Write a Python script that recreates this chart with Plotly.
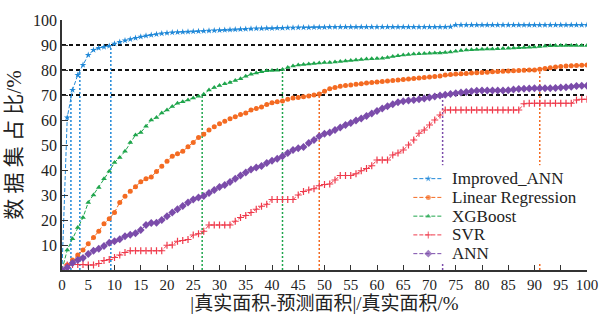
import plotly.graph_objects as go

# Error threshold (%) on the x axis
error_pct = list(range(0, 101))

improved_ann = [0, 61, 72, 78, 82, 86, 88, 88.8, 89.2, 89.6, 90.5, 91.2, 91.8, 92.3, 92.8, 93.3, 93.7, 94, 94.3, 94.6,
                94.8, 95, 95.1, 95.2, 95.3, 95.4, 95.5, 95.6, 95.7, 95.8, 95.9, 96, 96.1, 96.2, 96.3, 96.4, 96.5, 96.6, 96.6, 96.7,
                96.7, 96.8, 96.8, 96.9, 96.9, 97, 97, 97, 97.1, 97.1, 97.1, 97.2, 97.2, 97.2, 97.2, 97.2, 97.2, 97.2, 97.2, 97.2,
                97.2, 97.2, 97.2, 97.2, 97.2, 97.2, 97.2, 97.2, 97.2, 97.2, 97.2, 97.2, 97.2, 97.2, 97.3, 98, 98, 98, 98, 98,
                98, 98, 98, 98, 98, 98, 98, 98, 98, 98, 98, 98, 98, 98, 98, 98, 98, 98, 98, 98, 98]

linear_regression = [0, 2, 4, 6, 8, 10.5, 13, 15.5, 18.5, 20.5, 23, 27, 29.5, 31.5, 33.3, 35.3, 36.5, 37.2, 39.4, 41.5,
                     43.5, 45.5, 46.5, 47.5, 49.3, 51, 53, 54.3, 56, 57.3, 58.5, 59.5, 60.5, 61.3, 62.2, 62.8, 64, 64.6, 65.2, 66.2,
                     66.9, 67.3, 67.6, 68.3, 68.8, 69, 69.3, 69.6, 70, 70.4, 71.5, 72.5, 73, 73.5, 73.8, 74, 74.3, 74.5, 74.8, 75,
                     75.2, 75.4, 75.6, 75.8, 76, 76.2, 76.4, 76.6, 76.8, 77, 77.2, 77.4, 77.6, 78, 78.2, 78.4, 78.5, 78.6, 78.8, 78.9,
                     79, 79.1, 79.3, 79.4, 79.5, 79.6, 79.7, 79.8, 79.9, 80, 80, 80.3, 80.6, 80.9, 81.2, 81.4, 81.6, 81.7, 81.8, 81.9,
                     82]

xgboost = [0, 8, 12.5, 17, 21, 27, 30, 33, 36.5, 39.5, 43, 45, 47.5, 51, 54, 55, 57.5, 60, 61, 62.8,
           64, 65.4, 66.7, 67.3, 68, 68.8, 69.5, 70.3, 72, 73, 73.8, 74.5, 75, 75.8, 76.5, 77.5, 78.3, 78.8, 79.3, 79.7,
           79.8, 79.9, 80.2, 81, 81.6, 82, 82.2, 82.4, 82.6, 82.8, 83, 83, 83.2, 83.4, 83.6, 83.8, 84, 84.2, 84.4, 84.5,
           84.6, 84.7, 85, 85.4, 85.7, 86, 86.2, 86.4, 86.5, 86.6, 86.7, 86.8, 86.8, 87, 87.2, 87.5, 87.8, 88, 88.1, 88.2,
           88.3, 88.4, 88.4, 88.5, 88.6, 88.7, 88.8, 88.9, 89, 89.1, 89.2, 89.4, 89.6, 89.7, 89.8, 89.8, 89.8, 89.8, 89.8, 89.8,
           89.8]

svr = [0, 2, 2.2, 2.2, 2.2, 2, 2, 2.6, 3.8, 4.2, 5, 6, 7, 7.7, 7.7, 7.7, 7.7, 7.7, 7.7, 7.7,
       9.9, 10, 11.5, 11.8, 12.2, 14, 14.5, 15.5, 18, 18, 18, 18, 18, 19.5, 21, 21.8, 23, 24.3, 25.5, 26.3,
       28.2, 28.2, 28.2, 28.2, 28.2, 30, 31.4, 32, 32.5, 33.7, 34.2, 34.4, 36, 37.8, 37.8, 37.8, 38.5, 39.7, 40.6, 41.7,
       44, 44, 44, 46, 46.8, 48, 50, 52, 54.7, 56, 58, 60, 62, 64, 64, 64, 64, 64, 64, 64,
       64, 64, 64, 64, 64, 64, 64, 64, 66.5, 66.7, 66.7, 66.7, 66.7, 66.7, 66.7, 66.7, 66.7, 66.7, 68, 68.3,
       68.3]

ann = [0, 1, 2.8, 4, 4.8, 6.4, 7.7, 8.5, 9.6, 10.9, 11.5, 12.3, 13.5, 14.1, 14.7, 16, 18, 18.8, 18.9, 20,
       21.5, 23, 24.3, 25.6, 27, 28.2, 29, 29.6, 30.8, 32, 33.2, 34, 35.2, 36.5, 37.8, 39, 40.2, 41, 41.6, 42.8,
       43.7, 44.5, 45.5, 46.8, 48, 48.7, 49.2, 50.8, 52, 53.5, 54.5, 55, 56, 57, 58, 58.8, 59.8, 60.6, 61.6, 62.6,
       63.6, 64.6, 65.5, 66.3, 67.1, 67.5, 67.8, 68, 68.3, 68.6, 69, 69.4, 69.8, 70.1, 70.4, 70.7, 71, 71.2, 71.5, 71.7,
       71.8, 71.8, 71.8, 71.8, 71.8, 71.9, 72.2, 72.4, 72.5, 72.6, 72.7, 72.7, 72.7, 72.7, 72.8, 73, 73.1, 73.3, 73.6, 73.7,
       73.7]

series_names = ["Improved_ANN", "Linear Regression", "XGBoost", "SVR", "ANN"]
series_values = [improved_ann, linear_regression, xgboost, svr, ann]
colors = ["#1f88d8", "#f46b22", "#1ea54b", "#ef3b4c", "#7b4caa"]
symbols = ["star", "circle", "triangle-up", "cross-thin", "diamond"]
marker_sizes = [5, 5, 5, 5, 6]

# Reference levels and where each model reaches them: (error %, level %)
levels = [70, 80, 90]
crossings = {
    "Improved_ANN": [(1.7, 70), (3.4, 80), (9.3, 90)],
    "Linear Regression": [(49.0, 70), (91.0, 80)],
    "XGBoost": [(26.7, 70), (42.0, 80)],
    "ANN": [(72.5, 70)],
}

xtick_vals = list(range(0, 101, 5))
ytick_vals = list(range(10, 101, 10))

serif = "Liberation Serif, Times New Roman, serif"
cjk = "Liberation Serif, Noto Sans CJK SC, serif"

# Figure / plot-area geometry in pixels
W, H = 614, 321
L, R, T, B = 61, 27, 15, 46
PW, PH = W - L - R, H - T - B


def px_x(p):
    return (p - L) / PW


def px_y(p):
    return (H - B - p) / PH


def marker_style(col, sym, ms):
    thin = sym.endswith("thin")
    return dict(color=col, symbol=sym, size=ms,
                line=dict(color=col, width=1.2 if thin else 0))


fig = go.Figure()

for name, vals, col, sym, ms in zip(series_names, series_values, colors, symbols, marker_sizes):
    fig.add_trace(go.Scatter(
        x=error_pct, y=vals, name=name, mode="lines+markers",
        line=dict(color=col, width=1, dash="4px,2px"),
        marker=marker_style(col, sym, ms),
        showlegend=False,
    ))

shapes = []
for lv in levels:
    shapes.append(dict(type="line", xref="x", yref="y", x0=0, x1=100, y0=lv, y1=lv,
                       line=dict(color="#111111", width=2, dash="4px,3px"), layer="below"))
for name, pts in crossings.items():
    col = colors[series_names.index(name)]
    for xv, lv in pts:
        shapes.append(dict(type="line", xref="x", yref="y", x0=xv, x1=xv, y0=0, y1=lv,
                           line=dict(color=col, width=1.5, dash="2px,2px"), layer="below"))

# Legend box (opaque white, no border) drawn on its own pixel-scaled axes
leg_left, leg_right, leg_top, leg_bottom = 408, 592, 166, 268
row_y = [180, 199.5, 219, 238.5, 258]
sample_x0, sample_x1, text_x = 413, 443, 451

shapes.append(dict(type="rect", xref="paper", yref="paper",
                   x0=px_x(leg_left), x1=px_x(leg_right), y0=px_y(leg_bottom), y1=px_y(leg_top),
                   fillcolor="white", line=dict(width=0), layer="below"))

annotations = []
for name, col, sym, ms, ry in zip(series_names, colors, symbols, marker_sizes, row_y):
    fig.add_trace(go.Scatter(
        x=[sample_x0, (sample_x0 + sample_x1) / 2, sample_x1], y=[ry, ry, ry],
        xaxis="x2", yaxis="y2", mode="lines+markers",
        line=dict(color=col, width=1, dash="4px,2px"),
        marker=dict(marker_style(col, sym, ms), size=[0, ms, 0]),
        showlegend=False, hoverinfo="skip",
    ))
    annotations.append(dict(x=px_x(text_x), y=px_y(ry), xref="paper", yref="paper",
                            text=name, showarrow=False, xanchor="left", yanchor="middle",
                            borderpad=0,
                            font=dict(family=serif, size=17, color="#222222")))

fig.update_layout(
    width=W, height=H,
    margin=dict(l=L, r=R, t=T, b=B),
    paper_bgcolor="white", plot_bgcolor="white",
    shapes=shapes,
    annotations=annotations,
    showlegend=False,
    xaxis=dict(range=[0, 100], tickvals=xtick_vals, ticks="inside", ticklen=5,
               tickcolor="#333333", showline=True, linecolor="#333333", linewidth=1.5,
               showgrid=False, zeroline=False,
               tickfont=dict(family=serif, size=15, color="#222222"),
               title=dict(text="|真实面积-预测面积|/真实面积/%", standoff=3,
                          font=dict(family=cjk, size=19, color="#222222"))),
    yaxis=dict(range=[0, 100], tickvals=ytick_vals, ticks="inside", ticklen=6,
               tickcolor="#333333", showline=True, linecolor="#333333", linewidth=1.5,
               showgrid=False, zeroline=False,
               tickfont=dict(family=serif, size=16, color="#222222"),
               title=dict(text="数 据 集 占 比/%", standoff=6,
                          font=dict(family=cjk, size=21, color="#222222"))),
    xaxis2=dict(domain=[px_x(leg_left), 1.0], range=[leg_left, L + PW], anchor="y2",
                visible=False, fixedrange=True),
    yaxis2=dict(domain=[px_y(leg_bottom), px_y(leg_top)], range=[leg_bottom, leg_top],
                anchor="x2", visible=False, fixedrange=True),
)

fig.write_html("out.html")
